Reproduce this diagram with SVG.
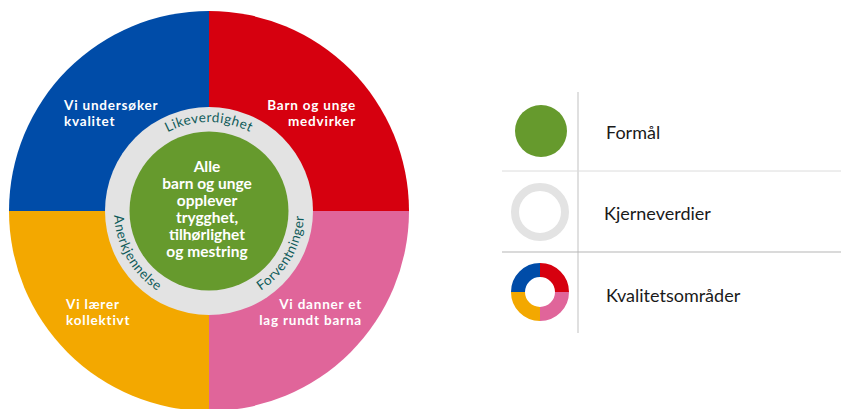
<svg xmlns="http://www.w3.org/2000/svg" width="841" height="409" viewBox="0 0 841 409">
<style>
.q{font-family:Lato,"Liberation Sans",sans-serif;font-weight:bold;font-size:13.5px;fill:#fff;letter-spacing:0.8px}
.c{font-family:Lato,"Liberation Sans",sans-serif;font-weight:bold;font-size:15.5px;fill:#fff;text-anchor:middle}
.r{font-family:Lato,"Liberation Sans",sans-serif;font-size:13.5px;fill:#0f5b59;letter-spacing:0.5px}
.l{font-family:Lato,"Liberation Sans",sans-serif;font-size:18px;fill:#1a1a1a}
</style>
<defs>
<path id="pTop" d="M120,211 A89,89 0 0 1 298,211"/>
<path id="pRight" d="M161.5,293.3 A95,95 0 0 0 256.5,128.7"/>
<path id="pLeft" d="M161.5,128.7 A95,95 0 0 0 256.5,293.3"/>
</defs>
<rect width="841" height="409" fill="#fff"/>
<g id="kvalitetsomrader">
<path d="M209,211 L9,211 A200,200 0 0 1 209,11 Z" fill="#004ca8"/>
<path d="M209,211 L209,11 A200,200 0 0 1 409,211 Z" fill="#d6000f"/>
<path d="M209,211 L409,211 A200,200 0 0 1 209,411 Z" fill="#e0659a"/>
<path d="M209,211 L209,411 A200,200 0 0 1 9,211 Z" fill="#f3a800"/>
<text class="q" x="64" y="110">Vi undersøker</text>
<text class="q" x="64" y="126">kvalitet</text>
<text class="q" x="356" y="110" text-anchor="end">Barn og unge</text>
<text class="q" x="356" y="126" text-anchor="end">medvirker</text>
<text class="q" x="66" y="309">Vi lærer</text>
<text class="q" x="66" y="325">kollektivt</text>
<text class="q" x="362" y="309" text-anchor="end">Vi danner et</text>
<text class="q" x="362" y="325" text-anchor="end">lag rundt barna</text>
</g>
<g id="kjerneverdier">
<circle cx="209" cy="211" r="104" fill="#e3e3e3"/>
<text class="r"><textPath href="#pTop" startOffset="50%" text-anchor="middle">Likeverdighet</textPath></text>
<text class="r"><textPath href="#pRight" startOffset="50%" text-anchor="middle">Forventninger</textPath></text>
<text class="r"><textPath href="#pLeft" startOffset="50%" text-anchor="middle">Anerkjennelse</textPath></text>
</g>
<g id="formal">
<circle cx="209" cy="211" r="79.5" fill="#669a2d"/>
<text class="c" x="207" y="172">Alle</text>
<text class="c" x="207" y="189">barn og unge</text>
<text class="c" x="207" y="206">opplever</text>
<text class="c" x="207" y="223">trygghet,</text>
<text class="c" x="207" y="240">tilhørlighet</text>
<text class="c" x="207" y="257">og mestring</text>
</g>
<g id="legend-lines" fill="none">
<line x1="578" y1="92" x2="578" y2="333" stroke="#cfcfcf" stroke-width="1.3"/>
<line x1="502" y1="171" x2="841" y2="171" stroke="#dcdcdc" stroke-width="1"/>
<line x1="502" y1="252" x2="841" y2="252" stroke="#b5b5b5" stroke-width="1"/>
</g>
<g id="legend-formal">
<circle cx="541" cy="131" r="26" fill="#669a2d"/>
<text class="l" x="606" y="139">Formål</text>
</g>
<g id="legend-kjerneverdier">
<circle cx="540" cy="212" r="25" fill="none" stroke="#e3e3e3" stroke-width="8"/>
<text class="l" x="604" y="220">Kjerneverdier</text>
</g>
<g id="legend-kvalitetsomrader" fill="none" stroke-width="14">
<path d="M518,292 A22,22 0 0 1 540,270" stroke="#004ca8"/>
<path d="M540,270 A22,22 0 0 1 562,292" stroke="#d6000f"/>
<path d="M562,292 A22,22 0 0 1 540,314" stroke="#e0659a"/>
<path d="M540,314 A22,22 0 0 1 518,292" stroke="#f3a800"/>
<text class="l" x="606" y="302" stroke="none">Kvalitetsområder</text>
</g>
</svg>
